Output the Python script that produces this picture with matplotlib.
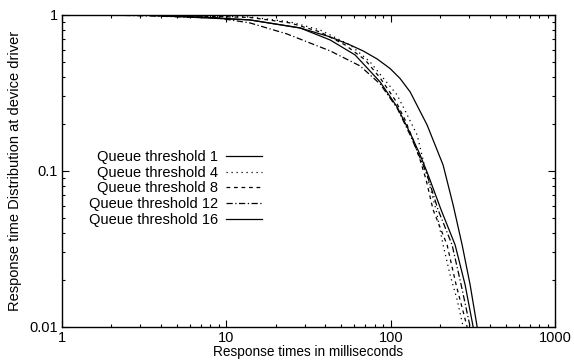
import matplotlib
matplotlib.use("Agg")
import matplotlib.pyplot as plt

plt.rcParams['font.family'] = ['Liberation Sans', 'DejaVu Sans']

# response time (ms) and fraction of requests slower than that, per queue threshold
t_q1 = [1.0, 3.43, 6.92, 13.9, 28.1, 42.8, 56.6, 67.9, 82.7, 99.2, 114.1, 131.3, 166.5, 208.4, 239.8,
        272.1, 304.3, 335.7]
p_q1 = [1.0, 0.993, 0.971, 0.929, 0.825, 0.723, 0.642, 0.588, 0.522, 0.453, 0.391, 0.321, 0.197, 0.109,
        0.0605, 0.0335, 0.0186, 0.01]

t_q4 = [1.0, 3.43, 13.9, 24.4, 37.2, 49.2, 56.6, 74.9, 89.9, 109.4, 125.9, 144.8, 157.5, 168.9,
        188.9, 208.4, 229.9, 253.6, 275.9]
p_q4 = [1.0, 1.0, 0.971, 0.902, 0.801, 0.691, 0.642, 0.500, 0.395, 0.307, 0.229, 0.170, 0.1176, 0.0876,
        0.0562, 0.0335, 0.0215, 0.0149, 0.01]

t_q8 = [1.0, 3.43, 13.9, 24.4, 37.2, 52.8, 69.9, 86.2, 106.4, 122.4, 136.9, 151.0, 164.3, 181.2,
        220.4, 250.1, 291.7]
p_q8 = [1.0, 1.0, 0.964, 0.889, 0.778, 0.642, 0.515, 0.395, 0.285, 0.212, 0.158, 0.1176, 0.0876, 0.0562,
        0.0335, 0.0186, 0.01]

t_q12 = [1.0, 1.70, 3.43, 8.78, 13.9, 23.4, 42.8, 65.1, 86.2, 109.4, 131.3, 151.0, 166.5, 194.3,
         236.4, 268.3, 304.3]
p_q12 = [1.0, 1.0, 0.985, 0.957, 0.889, 0.755, 0.588, 0.471, 0.361, 0.253, 0.170, 0.121, 0.0943, 0.0562,
         0.0335, 0.0186, 0.01]

t_q16 = [1.0, 3.43, 13.9, 28.1, 42.8, 60.7, 86.2, 109.4, 131.3, 151.0, 168.9, 202.7, 246.6, 283.6, 317.4]
p_q16 = [1.0, 0.993, 0.929, 0.825, 0.691, 0.554, 0.372, 0.257, 0.175, 0.1266, 0.0943, 0.0562, 0.0335,
         0.0186, 0.01]

series = [
    ("Queue threshold 1", t_q1, p_q1, '-'),
    ("Queue threshold 4", t_q4, p_q4, (0, (1, 3))),
    ("Queue threshold 8", t_q8, p_q8, (0, (3, 3))),
    ("Queue threshold 12", t_q12, p_q12, (0, (5, 2, 1, 2))),
    ("Queue threshold 16", t_q16, p_q16, '-'),
]

fig = plt.figure(figsize=(5.74, 3.64), dpi=100)
ax = fig.add_axes([0.108, 0.102, 0.859, 0.857])

for label, t, p, ls in series:
    ax.plot(t, p, color='black', linestyle=ls, linewidth=0.9, label=label)

ax.set_xscale('log')
ax.set_yscale('log')
ax.set_xlim(1, 1000)
ax.set_ylim(0.01, 1)
ax.set_xticks([1, 10, 100, 1000])
ax.set_xticklabels(['1', '10', '100', '1000'])
ax.set_yticks([0.01, 0.1, 1])
ax.set_yticklabels(['0.01', '0.1', '1'])
ax.tick_params(which='both', direction='in', top=True, right=True, labelsize=10.5, width=0.8)
ax.tick_params(which='major', length=5, pad=3)
ax.tick_params(which='minor', length=2.5)
for s in ax.spines.values():
    s.set_linewidth(1.0)

ax.set_xlabel('Response times in milliseconds', fontsize=9.8, labelpad=0)
ax.set_ylabel('Response time Distribution at device driver', fontsize=10.5, labelpad=5)

ax.legend(loc='upper right', bbox_to_anchor=(0.406, 0.567), frameon=False,
          markerfirst=False, fontsize=10.5, handlelength=2.5, handletextpad=0.5,
          labelspacing=0.12, borderpad=0, borderaxespad=0)

fig.savefig('out.png', dpi=100)
